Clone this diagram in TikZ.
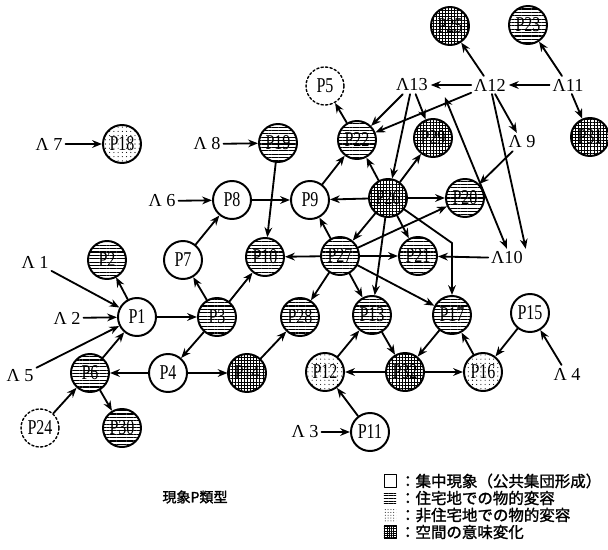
\documentclass[tikz,border=0pt]{standalone}
\usepackage{fontspec}
\setmainfont{Liberation Serif}
\newfontfamily\narrow{Liberation Serif}[FakeStretch=0.76]
\newfontfamily\cjk{Noto Sans CJK JP}[FakeBold=1.5]
\usetikzlibrary{arrows.meta,patterns.meta,positioning}
\tikzset{
  pw/.style={circle,draw,line width=1.4pt,minimum size=0.95cm,inner sep=0pt,font=\narrow\fontsize{15}{15}\selectfont},
  ph/.style={pw,pattern={Lines[angle=0,distance=2.4pt,line width=.8pt]}},
  pv/.style={pw,pattern={Hatch[angle=0,distance=2.2pt,line width=.6pt]}},
  pd/.style={pw,pattern={Dots[distance=3pt,radius=.4pt]}},
  pq/.style={pw,line width=1pt,dash pattern=on 1.6pt off 1.6pt},
  lam/.style={inner sep=1.5pt,font=\fontsize{13}{13}\selectfont},
  keybox/.style={draw,line width=.6pt,minimum width=.3cm,minimum height=.34cm,inner sep=0pt},
  keytext/.style={inner sep=0pt,font=\cjk\fontsize{11}{12}\selectfont},
}
\begin{document}
\begin{tikzpicture}[x=0.025cm,y=-0.025cm,>={Stealth[length=7pt,width=5.5pt]},line width=1.3pt,line join=round,line cap=round]
  \useasboundingbox (0,0) rectangle (608,549);
  % phenomena
  \foreach \n/\x/\y in {P1/137/317,P4/168/373,P7/183/260,P8/232/200,P9/310/200,P15/530/313,P11/370/432}
    \node[pw] (\n) at (\x,\y) {\n};
  \foreach \n/\x/\y in {P2/107/260,P3/217/317,P6/90/373,P10/265/257,P13/372/315,P17/452/315,P19/278/143,P20/465/198,P21/418/256,P22/357/140,P23/528/25,P27/340/256,P28/300/317,P30/122/428}
    \node[ph] (\n) at (\x,\y) {\n};
  \foreach \n/\x/\y in {P14/247/373,P25/450/26,P26/388/198,P29/433/138,P31/590/137,P32/405/372}
    \node[pv] (\n) at (\x,\y) {\n};
  \foreach \n/\x/\y in {P12/325/372,P16/483/372,P18/122/144}
    \node[pd] (\n) at (\x,\y) {\n};
  \foreach \n/\x/\y in {P5/325/86,P24/40/428}
    \node[pq] (\n) at (\x,\y) {\n};
  % actors
  \foreach \n/\t/\x/\y in {A1/1/35/262,A2/2/67/318,A3/3/305/432,A4/4/567/374,A5/5/20/376,A6/6/162/201,A7/7/49/144,A8/8/207/144,A9/9/522/142}
    \node[lam] (\n) at (\x,\y) {Λ \t};
  \foreach \n/\t/\x/\y in {A10/10/507/258,A11/11/568/85,A12/12/490/85,A13/13/412/85}
    \node[lam] (\n) at (\x,\y) {Λ\t};
  \path (A13.east)+(14,12) coordinate (A13r)
    (P17)+(0,-72) coordinate (P17k);
  % links
  \foreach \a/\b in {A7/P18,A8/P19,A6/P8,A1/P1,A2/P1,A5/P1,A3/P11,A4/P15,A10/P21,A11/A12,A12/A13,A11/P23,A11/P31,A12/P25,A12/A9,A9/P20,A12/P22,A13/P22,A13/P26,A13/P29,
    P1/P2,P1/P3,P6/P1,P3/P7,P7/P8,P3/P10,P3/P4,P4/P6,P4/P14,P14/P28,P24/P6,P6/P30,P19/P10,P8/P9,
    P9/P22,P26/P9,P27/P9,P26/P22,P22/P5,P26/P29,P26/P20,P26/P21,P26/P13,P26/P27,P27/P20,P27/P10,P27/P21,P27/P28,P27/P13,P27/P17,
    P12/P13,P13/P32,P17/P32,P32/P12,P32/P16,P16/P17,P15/P16,P11/P12}
    \draw[->] (\a)--(\b);
  \draw[->] (A12)--(A10.north east);
  \draw[<->] (A13r)--(A10.north);
  \draw[->] (P26)--(P17k)--(P17);
  % legend
  \node[keybox] (K1) at (390,481) {};
  \node[keybox,draw=none,pattern={Lines[angle=0,distance=1.8pt,line width=.5pt]}] (K2) at (390,498) {};
  \node[keybox,draw=none,pattern={Dots[distance=2pt,radius=.35pt]}] (K3) at (390,515) {};
  \node[keybox,pattern={Hatch[angle=0,distance=1.6pt,line width=.45pt]}] (K4) at (390,532) {};
  \node[keytext,right=2pt of K1] (T1) {：集中現象（公共集団形成）};
  \node[keytext,right=2pt of K2] (T2) {：住宅地での物的変容};
  \node[keytext,right=2pt of K3] (T3) {：非住宅地での物的変容};
  \node[keytext,right=2pt of K4] (T4) {：空間の意味変化};
  \node[inner sep=0pt,font=\cjk\fontsize{10}{11}\selectfont] (cap) at (195,497) {現象P類型};
\end{tikzpicture}
\end{document}
